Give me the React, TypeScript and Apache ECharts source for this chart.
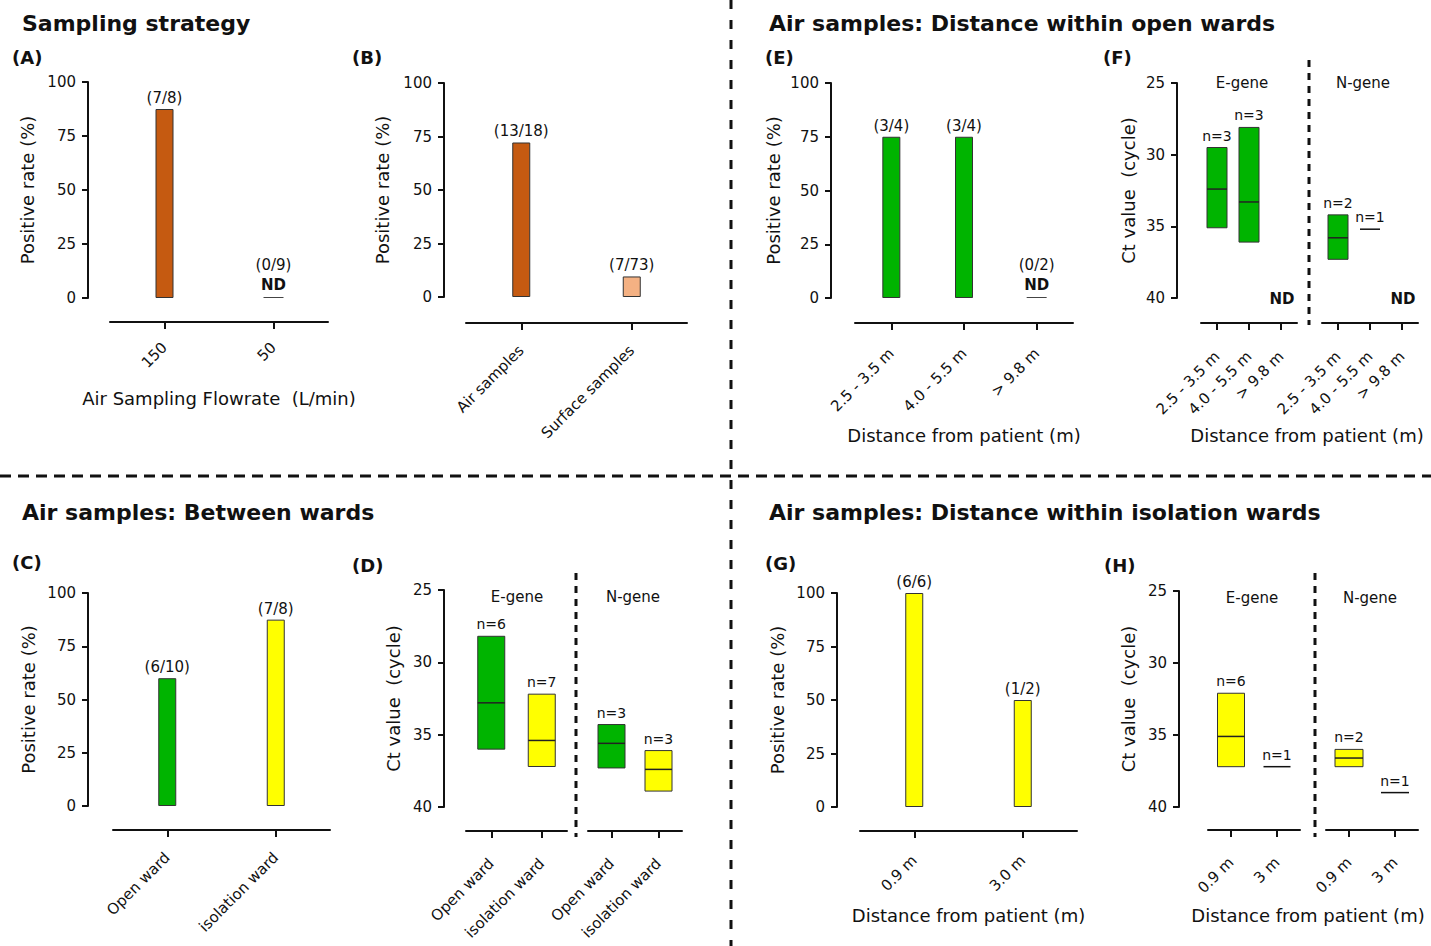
import React, { useEffect, useRef } from "react";
import * as echarts from "echarts";

const FONT = "DejaVu Sans";
const INK = "#111111";
const ORANGE = "#C55A11";
const LIGHT_ORANGE = "#F4B183";
const GREEN = "#00B400";
const YELLOW = "#FFFF00";

// ---------- Panel A : Sampling strategy (flowrate) ----------
const aCats = ["150", "50"];
const aRates = [87.5, 0];
const aCounts = ["(7/8)", "(0/9)"];
const aColors = [ORANGE, ORANGE];

// ---------- Panel B : air vs surface ----------
const bCats = ["Air samples", "Surface samples"];
const bRates = [72.2, 9.6];
const bCounts = ["(13/18)", "(7/73)"];
const bColors = [ORANGE, LIGHT_ORANGE];

// ---------- Panel C : between wards ----------
const cCats = ["Open ward", "isolation ward"];
const cRates = [60, 87.5];
const cCounts = ["(6/10)", "(7/8)"];
const cColors = [GREEN, YELLOW];

// ---------- Panel E : open ward distance ----------
const eCats = ["2.5 - 3.5 m", "4.0 - 5.5 m", "> 9.8 m"];
const eRates = [75, 75, 0];
const eCounts = ["(3/4)", "(3/4)", "(0/2)"];
const eColors = [GREEN, GREEN, GREEN];

// ---------- Panel G : isolation ward distance ----------
const gCats = ["0.9 m", "3.0 m"];
const gRates = [100, 50];
const gCounts = ["(6/6)", "(1/2)"];
const gColors = [YELLOW, YELLOW];

// ---------- Panel D : Ct values between wards ----------
const dCats = ["Open ward", "isolation ward"];
const dEMin = [28.2, 32.2];
const dEMax = [36.0, 37.2];
const dEMed = [32.8, 35.4];
const dEN = ["n=6", "n=7"];
const dNMin = [34.3, 36.1];
const dNMax = [37.3, 38.9];
const dNMed = [35.6, 37.4];
const dNN = ["n=3", "n=3"];
const dColors = [GREEN, YELLOW];

// ---------- Panel F : Ct values open ward ----------
const fCats = ["2.5 - 3.5 m", "4.0 - 5.5 m", "> 9.8 m"];
const fEMin = [29.5, 28.1, null];
const fEMax = [35.1, 36.1, null];
const fEMed = [32.4, 33.3, null];
const fEN = ["n=3", "n=3", "ND"];
const fNMin = [34.2, 35.2, null];
const fNMax = [37.3, 35.2, null];
const fNMed = [35.8, 35.2, null];
const fNN = ["n=2", "n=1", "ND"];
const fColors = [GREEN, GREEN, GREEN];

// ---------- Panel H : Ct values isolation ward ----------
const hCats = ["0.9 m", "3 m"];
const hEMin = [32.1, 37.2];
const hEMax = [37.2, 37.2];
const hEMed = [35.1, 37.2];
const hEN = ["n=6", "n=1"];
const hNMin = [36.0, 39.0];
const hNMax = [37.2, 39.0];
const hNMed = [36.6, 39.0];
const hNN = ["n=2", "n=1"];
const hColors = [YELLOW, YELLOW];

const rateTicks = { min: 0, max: 100, interval: 25 };
const ctTicks = { min: 25, max: 40, interval: 5 };

// ---------- layout ----------
const grids = [
  { left: 110, top: 82, width: 218, height: 216 }, // 0 A
  { left: 466, top: 83, width: 221, height: 214 }, // 1 B
  { left: 855, top: 83, width: 218, height: 215 }, // 2 E
  { left: 1201, top: 83, width: 96, height: 215 }, // 3 F-E
  { left: 1322, top: 83, width: 96, height: 215 }, // 4 F-N
  { left: 113, top: 593, width: 217, height: 213 }, // 5 C
  { left: 466, top: 590, width: 101, height: 217 }, // 6 D-E
  { left: 588, top: 590, width: 94, height: 217 }, // 7 D-N
  { left: 860, top: 593, width: 217, height: 214 }, // 8 G
  { left: 1208, top: 591, width: 92, height: 216 }, // 9 H-E
  { left: 1326, top: 591, width: 92, height: 216 }, // 10 H-N
].map((g) => ({ ...g, outerBoundsMode: "none", containLabel: false }));

const lineStyle = { color: INK, width: 2 };

function catAxis(
  gridIndex: number,
  data: string[],
  offset: number,
  margin: number,
  name?: string,
  nameGap?: number
) {
  return {
    type: "category",
    gridIndex,
    data,
    position: "bottom",
    offset,
    axisLine: { show: true, onZero: false, lineStyle },
    axisTick: { show: true, alignWithLabel: true, length: 7, lineStyle },
    axisLabel: { rotate: 45, interval: 0, margin, fontFamily: FONT, fontSize: 15, color: INK },
    splitLine: { show: false },
    name: name || "",
    nameLocation: "middle",
    nameGap: nameGap || 0,
    nameTextStyle: { fontFamily: FONT, fontSize: 18, color: INK },
  };
}

function valAxis(gridIndex: number, kind: "rate" | "ct", offset: number, nameGap: number, show = true) {
  const t = kind === "rate" ? rateTicks : ctTicks;
  return {
    type: "value",
    gridIndex,
    min: t.min,
    max: t.max,
    interval: t.interval,
    inverse: kind === "ct",
    show,
    position: "left",
    offset,
    axisLine: { show: true, onZero: false, lineStyle },
    axisTick: { show: true, length: 6, lineStyle },
    axisLabel: { margin: 12, fontFamily: FONT, fontSize: 15, color: INK },
    splitLine: { show: false },
    name: kind === "rate" ? "Positive rate (%)" : "Ct value  (cycle)",
    nameLocation: "middle",
    nameGap,
    nameTextStyle: { fontFamily: FONT, fontSize: 18, color: INK },
  };
}

const xAxes = [
  catAxis(0, aCats, 24, 23, "Air Sampling Flowrate  (L/min)", 67),
  catAxis(1, bCats, 26, 25),
  catAxis(2, eCats, 25, 28, "Distance from patient (m)", 103),
  catAxis(3, fCats, 25, 31),
  catAxis(4, fCats, 25, 31),
  catAxis(5, cCats, 24, 25),
  catAxis(6, dCats, 24, 30),
  catAxis(7, dCats, 24, 30),
  catAxis(8, gCats, 24, 27, "Distance from patient (m)", 75),
  catAxis(9, hCats, 23, 30),
  catAxis(10, hCats, 23, 30),
];

const yAxes = [
  valAxis(0, "rate", 22, 52),
  valAxis(1, "rate", 22, 53),
  valAxis(2, "rate", 24, 49),
  valAxis(3, "ct", 24, 40),
  valAxis(4, "ct", 0, 40, false),
  valAxis(5, "rate", 25, 51),
  valAxis(6, "ct", 22, 42),
  valAxis(7, "ct", 0, 42, false),
  valAxis(8, "rate", 23, 51),
  valAxis(9, "ct", 29, 42),
  valAxis(10, "ct", 0, 42, false),
];

function barSeries(idx: number, rates: number[], counts: string[], colors: string[]) {
  return [
    {
      type: "bar",
      xAxisIndex: idx,
      yAxisIndex: idx,
      barWidth: 18,
      data: rates.map((v, i) => ({
        value: v,
        itemStyle: { color: colors[i], borderColor: "#333", borderWidth: v === 0 ? 0 : 1 },
      })),
      label: {
        show: true,
        position: "top",
        distance: 2,
        fontFamily: FONT,
        fontSize: 15,
        color: INK,
        lineHeight: 18,
        formatter: (p: any) =>
          rates[p.dataIndex] === 0 ? counts[p.dataIndex] + "\n{nd|ND}" : counts[p.dataIndex],
        rich: { nd: { fontFamily: FONT, fontSize: 15, fontWeight: "bold", color: INK, lineHeight: 22 } },
      },
    },
    {
      type: "custom",
      xAxisIndex: idx,
      yAxisIndex: idx,
      data: rates.map((v, i) => [i, v]).filter((d) => d[1] === 0),
      renderItem: (_params: any, api: any) => {
        const p = api.coord([api.value(0), api.value(1)]);
        return {
          type: "line",
          shape: { x1: p[0] - 10, y1: p[1] - 0.5, x2: p[0] + 10, y2: p[1] - 0.5 },
          style: { stroke: "#444", lineWidth: 1 },
        };
      },
    },
  ];
}

function boxSeries(
  idx: number,
  cats: string[],
  mins: (number | null)[],
  maxs: (number | null)[],
  meds: (number | null)[],
  ns: string[],
  colors: string[],
  width: number
) {
  return {
    type: "custom",
    xAxisIndex: idx,
    yAxisIndex: idx,
    data: cats.map((_, i) => [i, mins[i] ?? 40, maxs[i] ?? 40, meds[i] ?? 40]),
    renderItem: (params: any, api: any) => {
      const i = params.dataIndex;
      const x = api.value(0);
      if (mins[i] == null) {
        const p = api.coord([x, 40]);
        return {
          type: "text",
          x: p[0] + 1,
          y: p[1] + 1,
          style: {
            text: ns[i],
            fill: INK,
            fontFamily: FONT,
            fontSize: 15,
            fontWeight: "bold",
            align: "center",
            verticalAlign: "middle",
          },
        };
      }
      const top = api.coord([x, api.value(1)]);
      const bot = api.coord([x, api.value(2)]);
      const med = api.coord([x, api.value(3)]);
      const hw = width / 2;
      const children: any[] = [];
      if ((maxs[i] as number) - (mins[i] as number) > 0.01) {
        children.push({
          type: "rect",
          shape: { x: top[0] - hw, y: top[1], width, height: bot[1] - top[1] },
          style: { fill: colors[i], stroke: "#333", lineWidth: 1 },
        });
        children.push({
          type: "line",
          shape: { x1: top[0] - hw, y1: med[1], x2: top[0] + hw, y2: med[1] },
          style: { stroke: "#222", lineWidth: 1.5 },
        });
      } else {
        children.push({
          type: "line",
          shape: { x1: top[0] - hw, y1: top[1], x2: top[0] + hw, y2: top[1] },
          style: { stroke: INK, lineWidth: 1.5 },
        });
      }
      children.push({
        type: "text",
        x: top[0],
        y: top[1] - 5,
        style: {
          text: ns[i],
          fill: INK,
          fontFamily: FONT,
          fontSize: 14,
          align: "center",
          verticalAlign: "bottom",
        },
      });
      return { type: "group", children };
    },
  };
}

const series = [
  ...barSeries(0, aRates, aCounts, aColors),
  ...barSeries(1, bRates, bCounts, bColors),
  ...barSeries(2, eRates, eCounts, eColors),
  boxSeries(3, fCats, fEMin, fEMax, fEMed, fEN, fColors, 20),
  boxSeries(4, fCats, fNMin, fNMax, fNMed, fNN, fColors, 20),
  ...barSeries(5, cRates, cCounts, cColors),
  boxSeries(6, dCats, dEMin, dEMax, dEMed, dEN, dColors, 27),
  boxSeries(7, dCats, dNMin, dNMax, dNMed, dNN, dColors, 27),
  ...barSeries(8, gRates, gCounts, gColors),
  boxSeries(9, hCats, hEMin, hEMax, hEMed, hEN, hColors, 27),
  boxSeries(10, hCats, hNMin, hNMax, hNMed, hNN, hColors, 28),
];

function txt(text: string, x: number, y: number, size: number, bold = false, align = "left") {
  return {
    type: "text",
    x,
    y,
    style: {
      text,
      fill: INK,
      fontFamily: FONT,
      fontSize: size,
      fontWeight: bold ? "bold" : "normal",
      align,
      verticalAlign: "middle",
    },
  };
}

function dash(x1: number, y1: number, x2: number, y2: number, pattern: number[]) {
  return {
    type: "line",
    shape: { x1, y1, x2, y2 },
    style: { stroke: "#111", lineWidth: 3, lineDash: pattern },
  };
}

const graphics = [
  txt("Sampling strategy", 22, 23, 22, true),
  txt("Air samples: Distance within open wards", 769, 23, 22, true),
  txt("Air samples: Between wards", 22, 512, 22, true),
  txt("Air samples: Distance within isolation wards", 769, 512, 22, true),
  txt("(A)", 12, 57, 18, true),
  txt("(B)", 352, 57, 18, true),
  txt("(E)", 765, 57, 18, true),
  txt("(F)", 1103, 57, 18, true),
  txt("(C)", 12, 562, 18, true),
  txt("(D)", 352, 565, 18, true),
  txt("(G)", 765, 563, 18, true),
  txt("(H)", 1104, 565, 18, true),
  txt("E-gene", 1242, 83, 15, false, "center"),
  txt("N-gene", 1363, 83, 15, false, "center"),
  txt("E-gene", 517, 597, 15, false, "center"),
  txt("N-gene", 633, 597, 15, false, "center"),
  txt("E-gene", 1252, 598, 15, false, "center"),
  txt("N-gene", 1370, 598, 15, false, "center"),
  txt("Distance from patient (m)", 1307, 435, 18, false, "center"),
  txt("Distance from patient (m)", 1308, 915, 18, false, "center"),
  dash(731, 0, 731, 946, [9, 11]),
  dash(0, 476, 1431, 476, [11, 7]),
  dash(1309, 60, 1309, 325, [7, 6]),
  dash(576, 573, 576, 837, [7, 6]),
  dash(1315, 573, 1315, 837, [7, 6]),
];

const option = {
  animation: false,
  backgroundColor: "#ffffff",
  textStyle: { fontFamily: FONT, color: INK },
  grid: grids,
  xAxis: xAxes,
  yAxis: yAxes,
  series,
  graphic: { elements: graphics },
};

export default function App() {
  const ref = useRef<HTMLDivElement>(null);
  useEffect(() => {
    document.body.style.margin = "0";
    const chart = echarts.init(ref.current as HTMLDivElement, null, { renderer: "svg" });
    chart.setOption(option as any);
    return () => chart.dispose();
  }, []);
  return <div ref={ref} style={{ width: 1431, height: 946, background: "#fff" }} />;
}
